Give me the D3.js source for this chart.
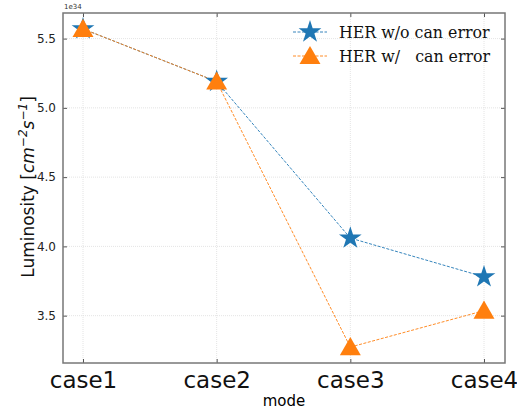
<!doctype html>
<html>
<head>
<style>
  body { margin: 0; background: #fff; }
  svg { font-family: "DejaVu Sans", sans-serif; }
</style>
<script src="https://d3js.org/d3.v7.min.js"></script>
</head>
<body>
<svg width="517" height="412"></svg>
<script>
// data, in units of 1e34
var cases = ["case1", "case2", "case3", "case4"];
var withoutErr = [5.57, 5.19, 4.06, 3.78];
var withErr = [5.57, 5.19, 3.273, 3.536];
var yTicks = [3.5, 4.0, 4.5, 5.0, 5.5];
var seriesNames = ["HER w/o can error", "HER w/   can error"];

var svg = d3.select("svg");
var left = 63, right = 505, plotTop = 13, bottom = 363;

var x = d3.scalePoint().domain(cases).range([83, 484]);
var lo = d3.min(withErr), hi = d3.max(withoutErr), pad = (hi - lo) * 0.05;
var y = d3.scaleLinear().domain([lo - pad, hi + pad]).range([bottom, plotTop]);

// grid
var grid = svg.append("g").attr("stroke", "#ddd").attr("stroke-width", 0.8).attr("stroke-dasharray", "1,1");
cases.forEach(function(c) {
  grid.append("line").attr("x1", x(c)).attr("x2", x(c)).attr("y1", plotTop).attr("y2", bottom);
});
yTicks.forEach(function(t) {
  grid.append("line").attr("x1", left).attr("x2", right).attr("y1", y(t)).attr("y2", y(t));
});

// axes with ticks pointing in
var axB = svg.append("g").attr("transform", "translate(0," + bottom + ")")
  .call(d3.axisBottom(x).tickSizeInner(-4).tickSizeOuter(0).tickPadding(8));
axB.selectAll("text").attr("font-size", 23).attr("fill", "#111").attr("dy", "0.75em");
var axT = svg.append("g").attr("transform", "translate(0," + plotTop + ")")
  .call(d3.axisTop(x).tickSizeInner(-4).tickSizeOuter(0).tickFormat(""));
var axL = svg.append("g").attr("transform", "translate(" + left + ",0)")
  .call(d3.axisLeft(y).tickValues(yTicks).tickFormat(d3.format(".1f")).tickSizeInner(-4).tickSizeOuter(0).tickPadding(7));
axL.selectAll("text").attr("font-size", 12).attr("fill", "#222");
var axR = svg.append("g").attr("transform", "translate(" + right + ",0)")
  .call(d3.axisRight(y).tickValues(yTicks).tickFormat("").tickSizeInner(-4).tickSizeOuter(0));
[axB, axT, axL, axR].forEach(function(a) {
  a.attr("font-family", "DejaVu Sans");
  a.selectAll(".domain").remove();
  a.selectAll(".tick line").attr("stroke", "#555");
});
svg.append("rect").attr("x", left).attr("y", plotTop).attr("width", right - left).attr("height", bottom - plotTop)
  .attr("fill", "none").attr("stroke", "#777").attr("stroke-width", 1.5);

// labels
svg.append("text").attr("x", 64).attr("y", 9).attr("font-size", 7).attr("fill", "#333").text("1e34");
svg.append("text").attr("x", (left + right) / 2).attr("y", 406).attr("text-anchor", "middle")
  .attr("font-size", 15).text("mode");
var yl = svg.append("text").attr("transform", "translate(34,187) rotate(-90)")
  .attr("text-anchor", "middle").attr("font-size", 17).attr("fill", "#111");
yl.append("tspan").text("Luminosity [");
yl.append("tspan").attr("font-style", "italic").text("cm");
yl.append("tspan").attr("font-style", "italic").attr("font-size", 12).attr("dy", -7).text("−2");
yl.append("tspan").attr("font-style", "italic").attr("dy", 7).text("s");
yl.append("tspan").attr("font-style", "italic").attr("font-size", 12).attr("dy", -7).text("−1");
yl.append("tspan").attr("dy", 7).text("]");

var line = d3.line().x(function(d, i) { return x(cases[i]); }).y(function(d) { return y(d); });
var colors = ["#1f77b4", "#ff7f0e"];
var symbols = [d3.symbol().type(d3.symbolStar).size(160), d3.symbol().type(d3.symbolTriangle).size(190)];

[withoutErr, withErr].forEach(function(vals, k) {
  svg.append("path").datum(vals).attr("d", line).attr("fill", "none")
    .attr("stroke", colors[k]).attr("stroke-width", 0.9).attr("stroke-dasharray", "3,1.5");
});
[withoutErr, withErr].forEach(function(vals, k) {
  svg.selectAll(".m" + k).data(vals).enter().append("path")
    .attr("transform", function(d, i) { return "translate(" + x(cases[i]) + "," + (y(d) + (k == 1 ? 2 : 0)) + ")"; })
    .attr("d", symbols[k]).attr("fill", colors[k]);
});

// legend
seriesNames.forEach(function(name, k) {
  var ly = 32 + k * 24;
  svg.append("line").attr("x1", 293).attr("x2", 327).attr("y1", ly).attr("y2", ly)
    .attr("stroke", colors[k]).attr("stroke-width", 0.9).attr("stroke-dasharray", "3,1.5");
  svg.append("path").attr("transform", "translate(310," + (ly + (k == 1 ? 2 : 0)) + ")")
    .attr("d", symbols[k]).attr("fill", colors[k]);
  svg.append("text").attr("x", 339).attr("y", ly + 6).attr("font-family", "DejaVu Serif")
    .attr("font-size", 15.8).attr("fill", "#111").style("white-space", "pre").text(name);
});
</script>
</body>
</html>
